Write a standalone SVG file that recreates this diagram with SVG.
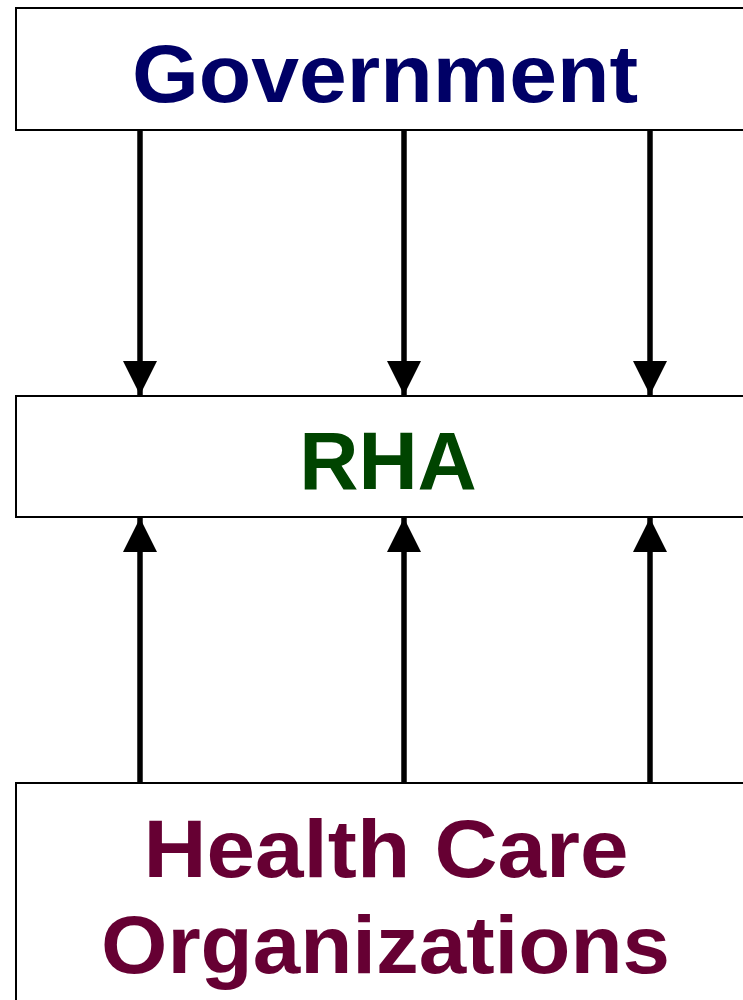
<svg xmlns="http://www.w3.org/2000/svg" width="743" height="1000" viewBox="0 0 743 1000">
<defs>
<style>
.box{fill:#fff;stroke:#000;stroke-width:2}
.lbl{font-family:"Liberation Sans",Arial,sans-serif;font-weight:bold;font-size:82px;text-anchor:middle}
.conn{stroke:#000;stroke-width:5.5;fill:none}
</style>
<marker id="ah" viewBox="0 0 34 34" refX="34" refY="17" markerWidth="34" markerHeight="34" markerUnits="userSpaceOnUse" orient="auto">
<path d="M0,0 L34,17 L0,34 Z" fill="#000"/>
</marker>
</defs>
<rect width="743" height="1000" fill="#fff"/>
<g id="connectors">
<line class="conn" x1="140" y1="131" x2="140" y2="395" marker-end="url(#ah)"/>
<line class="conn" x1="404" y1="131" x2="404" y2="395" marker-end="url(#ah)"/>
<line class="conn" x1="650" y1="131" x2="650" y2="395" marker-end="url(#ah)"/>
<line class="conn" x1="140" y1="782" x2="140" y2="518" marker-end="url(#ah)"/>
<line class="conn" x1="404" y1="782" x2="404" y2="518" marker-end="url(#ah)"/>
<line class="conn" x1="650" y1="782" x2="650" y2="518" marker-end="url(#ah)"/>
</g>
<g id="government">
<rect class="box" x="16" y="8" width="740" height="122"/>
<text class="lbl" x="385" y="102" fill="#000066" textLength="506" lengthAdjust="spacingAndGlyphs">Government</text>
</g>
<g id="rha">
<rect class="box" x="16" y="396" width="740" height="121"/>
<text class="lbl" x="388" y="489" fill="#004400">RHA</text>
</g>
<g id="hco">
<rect class="box" x="16" y="783" width="740" height="230"/>
<text class="lbl" x="386" y="877" fill="#660033" textLength="485" lengthAdjust="spacingAndGlyphs">Health Care</text>
<text class="lbl" x="385.5" y="973" fill="#660033" textLength="569" lengthAdjust="spacingAndGlyphs">Organizations</text>
</g>
</svg>
